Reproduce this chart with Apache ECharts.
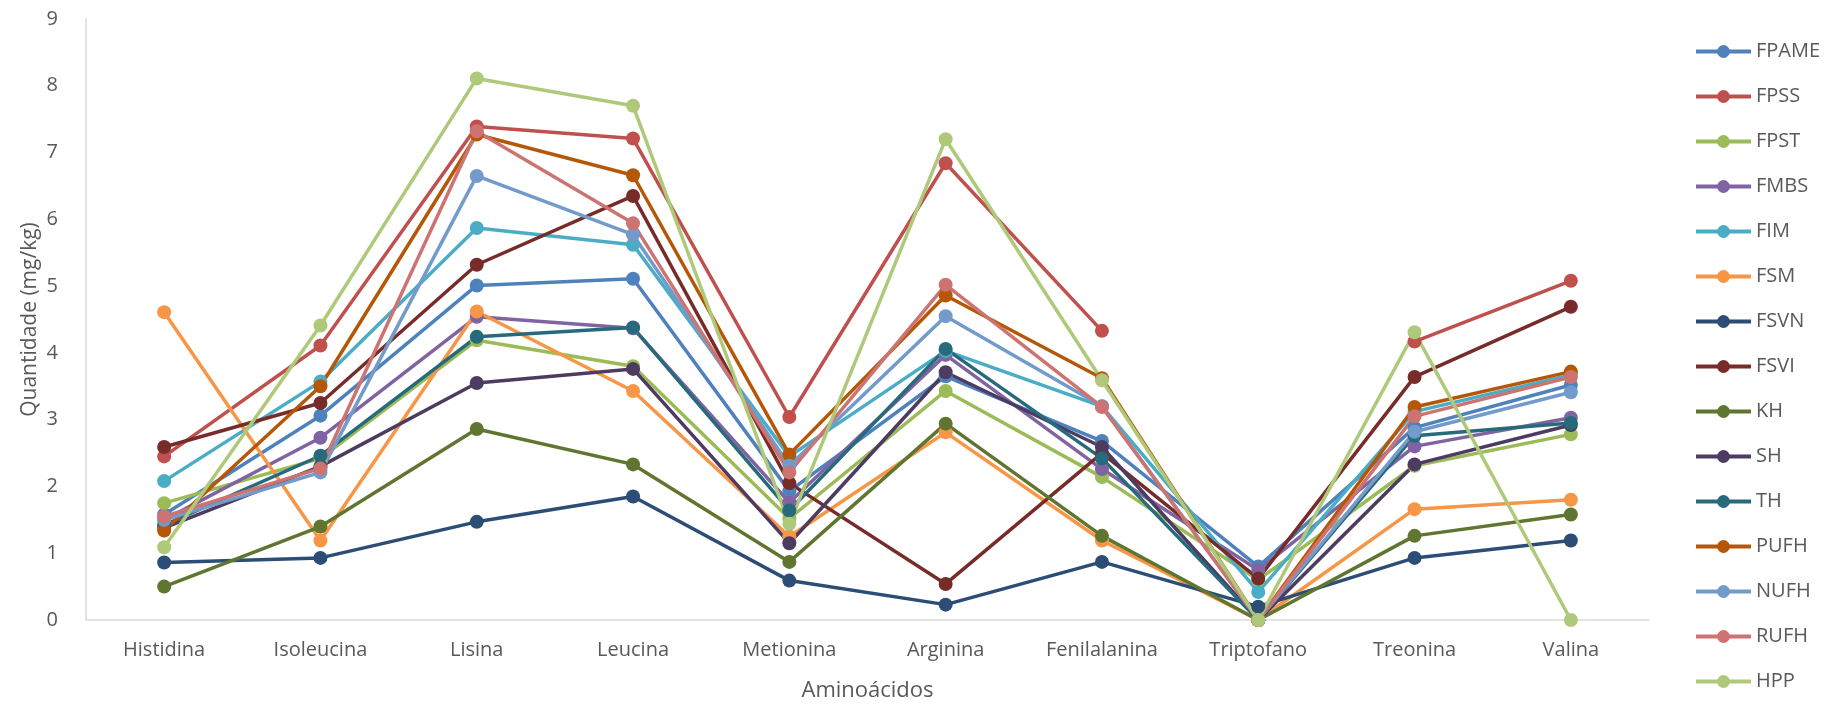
<!DOCTYPE html>
<html>
<head>
<meta charset="utf-8">
<script src="https://cdn.jsdelivr.net/npm/echarts@6/dist/echarts.min.js"></script>
<style>
html,body{margin:0;padding:0;background:#fff;}
#chart{width:1836px;height:707px;}
</style>
</head>
<body>
<div id="chart"></div>
<script>
const categories = ['Histidina','Isoleucina','Lisina','Leucina','Metionina','Arginina','Fenilalanina','Triptofano','Treonina','Valina'];
const yTicks = [0,1,2,3,4,5,6,7,8,9];

const FPAME = [1.58, 3.06, 5.01, 5.11, 1.93, 3.65, 2.68, 0.80, 2.88, 3.52];
const FPSS  = [2.45, 4.11, 7.39, 7.21, 3.04, 6.84, 4.33, null, 4.17, 5.08];
const FPST  = [1.75, 2.42, 4.19, 3.80, 1.52, 3.43, 2.14, 0.60, 2.31, 2.78];
const FMBS  = [1.50, 2.73, 4.54, 4.37, 1.76, 3.97, 2.26, 0.75, 2.60, 3.03];
const FIM   = [2.08, 3.57, 5.87, 5.62, 2.45, 4.03, 3.20, 0.42, 3.12, 3.67];
const FSM   = [4.61, 1.19, 4.62, 3.43, 1.25, 2.81, 1.19, 0, 1.66, 1.80];
const FSVN  = [0.86, 0.93, 1.47, 1.85, 0.59, 0.23, 0.87, 0.20, 0.93, 1.19];
const FSVI  = [2.59, 3.25, 5.32, 6.35, 2.05, 0.54, 2.50, 0.62, 3.64, 4.69];
const KH    = [0.50, 1.40, 2.86, 2.33, 0.87, 2.94, 1.26, 0, 1.26, 1.58];
const SH    = [1.38, 2.30, 3.55, 3.76, 1.15, 3.71, 2.59, 0, 2.33, 2.92];
const TH    = [1.42, 2.46, 4.24, 4.38, 1.64, 4.06, 2.42, 0, 2.76, 2.95];
const PUFH  = [1.34, 3.50, 7.27, 6.66, 2.48, 4.86, 3.62, 0, 3.19, 3.72];
const NUFH  = [1.50, 2.21, 6.65, 5.77, 2.31, 4.55, 3.20, 0, 2.82, 3.41];
const RUFH  = [1.55, 2.27, 7.32, 5.94, 2.21, 5.02, 3.19, 0, 3.05, 3.64];
const HPP   = [1.09, 4.41, 8.11, 7.70, 1.44, 7.20, 3.59, 0, 4.31, 0];

const seriesNames = ['FPAME','FPSS','FPST','FMBS','FIM','FSM','FSVN','FSVI','KH','SH','TH','PUFH','NUFH','RUFH','HPP'];
const seriesData = [FPAME,FPSS,FPST,FMBS,FIM,FSM,FSVN,FSVI,KH,SH,TH,PUFH,NUFH,RUFH,HPP];
const colors = ['#4F81BD','#C0504D','#9BBB59','#8064A2','#4BACC6','#F79646','#2C4D75','#772C2A','#5F7530','#4D3B62','#276A7C','#B65708','#729ACA','#CD7371','#AFC97A'];

const FONT = '"Open Sans", sans-serif';
const chart = echarts.init(document.getElementById('chart'), null, {renderer:'canvas'});
chart.setOption({
  animation: false,
  color: colors,
  grid: {left: 86, right: 187, top: 19, bottom: 80, containLabel: false},
  legend: {
    orient: 'vertical',
    left: 1689,
    top: 36,
    itemWidth: 55,
    itemHeight: 16,
    itemGap: 24,
    lineStyle: {width: 4},
    textStyle: {fontFamily: FONT, fontSize: 20, color: '#595959', lineHeight: 21},
    data: seriesNames.map(n => ({name: n, lineStyle: {width: 4}}))
  },
  xAxis: {
    type: 'category',
    data: categories,
    boundaryGap: true,
    name: 'Aminoácidos',
    nameLocation: 'middle',
    nameGap: 60,
    nameMoveOverlap: false,
    nameTextStyle: {fontFamily: FONT, fontSize: 22, color: '#595959'},
    axisLine: {lineStyle: {color: '#D9D9D9', width: 1.5}},
    axisTick: {show: false},
    axisLabel: {fontFamily: FONT, fontSize: 20, color: '#595959', margin: 20, interval: 0}
  },
  yAxis: {
    type: 'value',
    min: yTicks[0],
    max: yTicks[yTicks.length-1],
    interval: 1,
    name: 'Quantidade (mg/kg)',
    nameLocation: 'middle',
    nameGap: 45,
    nameMoveOverlap: false,
    nameTextStyle: {fontFamily: FONT, fontSize: 21, color: '#595959'},
    axisLine: {show: true, lineStyle: {color: '#D9D9D9', width: 1.5}},
    axisTick: {show: false},
    splitLine: {show: false},
    axisLabel: {fontFamily: FONT, fontSize: 20, color: '#595959', margin: 28}
  },
  series: seriesNames.map((n, i) => ({
    name: n,
    type: 'line',
    data: seriesData[i],
    symbol: 'circle',
    symbolSize: 14,
    showAllSymbol: true,
    connectNulls: false,
    lineStyle: {width: 3.5, color: colors[i]},
    itemStyle: {color: colors[i]}
  }))
});
</script>
</body>
</html>
